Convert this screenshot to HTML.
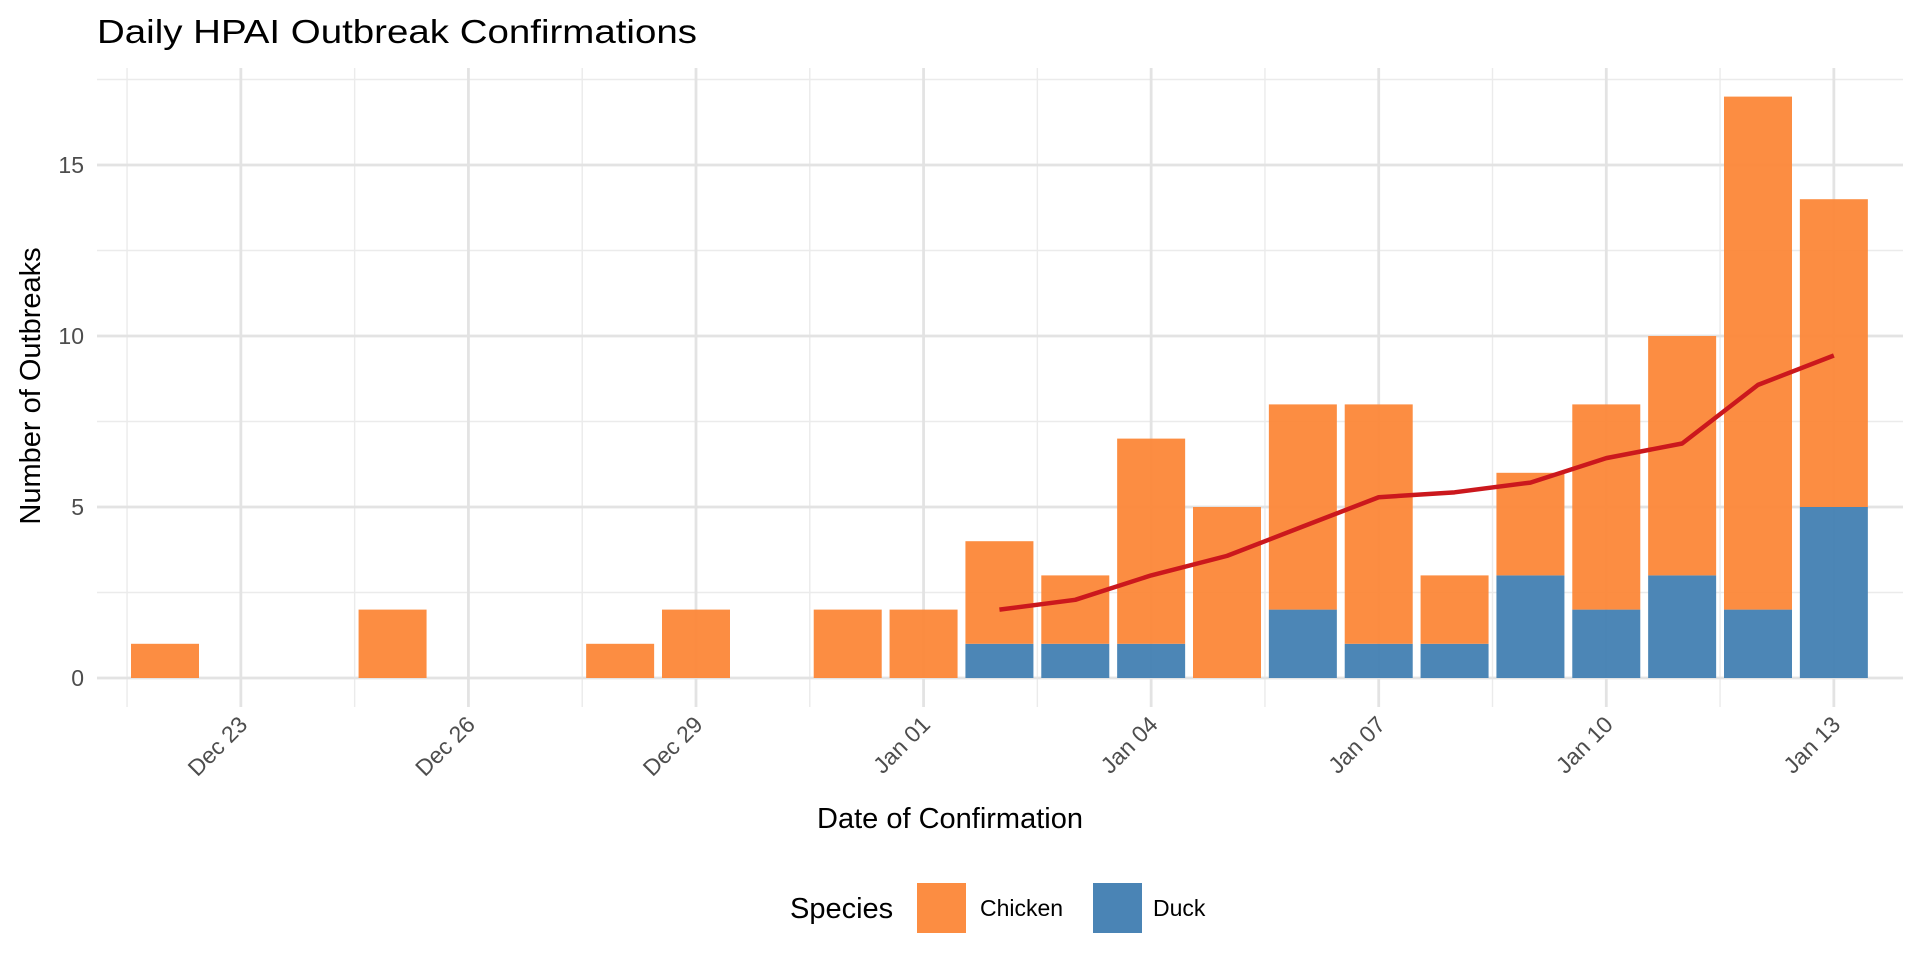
<!DOCTYPE html>
<html><head><meta charset="utf-8"><style>
html,body{margin:0;padding:0;background:#fff;}
svg{display:block;font-family:"Liberation Sans",Arial,sans-serif;}
</style></head><body>
<svg width="1920" height="960" viewBox="0 0 1920 960" xmlns="http://www.w3.org/2000/svg">
<rect width="1920" height="960" fill="#fff"/>
<text x="97" y="43" font-size="33" fill="#000" textLength="600" lengthAdjust="spacingAndGlyphs">Daily HPAI Outbreak Confirmations</text>
<g id="grid"></g>
<g id="bars"></g>
<g id="ticks"></g>
<text transform="translate(40,386) rotate(-90)" font-size="29" text-anchor="middle" fill="#000">Number of Outbreaks</text>
<text x="950" y="828" font-size="29" text-anchor="middle" fill="#000">Date of Confirmation</text>
<text x="790" y="918" font-size="29" fill="#000">Species</text>
<rect x="917" y="883" width="49" height="50" fill="#FC8738" opacity="0.95"/>
<text x="980" y="916" font-size="23" fill="#000">Chicken</text>
<rect x="1093" y="883" width="49" height="50" fill="#4682B4" opacity="0.98"/>
<text x="1153" y="916" font-size="23" fill="#000">Duck</text>
</svg>
<script>
var NS="http://www.w3.org/2000/svg";
function el(p,t,a,txt){var e=document.createElementNS(NS,t);for(var k in a)e.setAttribute(k,a[k]);if(txt!==undefined)e.textContent=txt;p.appendChild(e);return e;}
var L=97,R=1903,T=68,B=707;
function X(d){return 165+d*75.857;}
function Y(v){return 678-v*34.2;}
var g=document.getElementById('grid');
[2.5,7.5,12.5,17.5].forEach(function(v){el(g,'line',{x1:L,x2:R,y1:Y(v),y2:Y(v),stroke:'#EBEBEB','stroke-width':1.4});});
for(var d=-0.5;d<23;d+=3){el(g,'line',{x1:X(d),x2:X(d),y1:T,y2:B,stroke:'#EBEBEB','stroke-width':1.4});}
[0,5,10,15].forEach(function(v){el(g,'line',{x1:L,x2:R,y1:Y(v),y2:Y(v),stroke:'#E3E3E3','stroke-width':2.8});});
var labs=['Dec 23','Dec 26','Dec 29','Jan 01','Jan 04','Jan 07','Jan 10','Jan 13'];
for(var i=0;i<8;i++){var d=1+3*i;el(g,'line',{x1:X(d),x2:X(d),y1:T,y2:B,stroke:'#E3E3E3','stroke-width':2.8});}
var data=[[0,1,0],[3,2,0],[6,1,0],[7,2,0],[9,2,0],[10,2,0],[11,3,1],[12,2,1],[13,6,1],[14,5,0],[15,6,2],[16,7,1],[17,2,1],[18,3,3],[19,6,2],[20,7,3],[21,15,2],[22,9,5]];
var b=document.getElementById('bars');
data.forEach(function(r){var x=X(r[0])-34,w=68;
 if(r[2]>0)el(b,'rect',{x:x,y:Y(r[2]),width:w,height:Y(0)-Y(r[2]),fill:'#4682B4',opacity:0.97});
 el(b,'rect',{x:x,y:Y(r[1]+r[2]),width:w,height:Y(r[2])-Y(r[1]+r[2]),fill:'#FC8738',opacity:0.95});});
var ma=[[11,2],[12,2.286],[13,3],[14,3.571],[15,4.429],[16,5.286],[17,5.429],[18,5.714],[19,6.429],[20,6.857],[21,8.571],[22,9.429]];
el(b,'polyline',{points:ma.map(function(p){return X(p[0])+','+Y(p[1]);}).join(' '),fill:'none',stroke:'#CB181D','stroke-width':4.5,'stroke-linejoin':'round'});
var t=document.getElementById('ticks');
[0,5,10,15].forEach(function(v){el(t,'text',{x:84,y:Y(v)+8,'font-size':23,'text-anchor':'end',fill:'#4D4D4D'},String(v));});
for(var i=0;i<8;i++){var d=1+3*i,x=X(d);
 el(t,'text',{transform:'translate('+(x+8)+',726) rotate(-45)','font-size':23,'text-anchor':'end',fill:'#4D4D4D'},labs[i]);}
</script>
</body></html>
